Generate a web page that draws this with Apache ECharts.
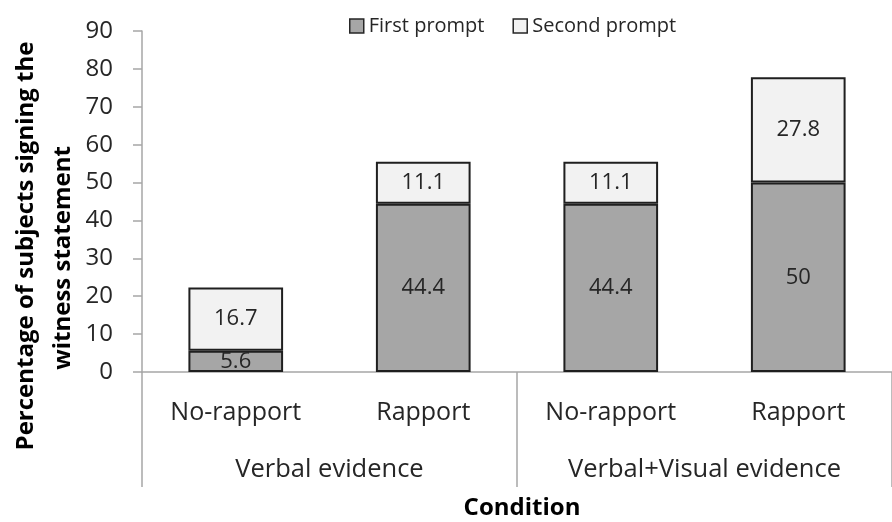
<!DOCTYPE html>
<html>
<head>
<meta charset="utf-8">
<script src="https://cdn.jsdelivr.net/npm/echarts@6/dist/echarts.min.js"></script>
<style>
html,body{margin:0;padding:0;background:#fff;}
#c{width:892px;height:522px;}
</style>
</head>
<body>
<div id="c"></div>
<script>
const categories = ['No-rapport', 'Rapport', 'No-rapport', 'Rapport'];
const groups = ['Verbal evidence', 'Verbal+Visual evidence'];
const firstPrompt = [5.6, 44.4, 44.4, 50];
const secondPrompt = [16.7, 11.1, 11.1, 27.8];
const yMin = 0, yMax = 90, yInterval = 10;
const seriesNames = ['First prompt', 'Second prompt'];
const yTitle1 = 'Percentage of subjects signing the';
const yTitle2 = 'witness statement';
const xTitle = 'Condition';

const FONT = '"Open Sans", sans-serif';
const AXIS_GRAY = '#a6a6a6';

const chart = echarts.init(document.getElementById('c'), null, {renderer: 'canvas'});
chart.setOption({
  animation: false,
  backgroundColor: '#ffffff',
  textStyle: {fontFamily: FONT},
  legend: {
    data: seriesNames,
    left: 344, top: 11,
    icon: 'rect', itemWidth: 14, itemHeight: 14, itemGap: 28,
    textStyle: {fontFamily: FONT, fontSize: 20, color: '#262626'},
    itemStyle: {borderColor: '#262626', borderWidth: 1.5}
  },
  grid: {left: 142, top: 31, width: 763, height: 341, containLabel: false},
  xAxis: [
    {
      type: 'category', data: categories, position: 'bottom',
      axisLine: {show: true, lineStyle: {color: AXIS_GRAY, width: 1.5}},
      axisTick: {show: false},
      axisLabel: {fontFamily: FONT, fontSize: 25, color: '#262626', margin: 28, interval: 0}
    },
    {
      type: 'category', data: groups, position: 'bottom', offset: 0,
      axisLine: {show: false},
      axisTick: {show: true, length: 115, lineStyle: {color: AXIS_GRAY, width: 1.5}},
      axisLabel: {fontFamily: FONT, fontSize: 25.5, color: '#262626', margin: 85, interval: 0}
    }
  ],
  yAxis: {
    type: 'value', min: yMin, max: yMax, interval: yInterval,
    axisLine: {show: true, lineStyle: {color: AXIS_GRAY, width: 1.5}},
    axisTick: {show: true, length: 9, lineStyle: {color: AXIS_GRAY, width: 1.5}},
    splitLine: {show: false},
    axisLabel: {fontFamily: FONT, fontSize: 24, color: '#262626', margin: 29}
  },
  series: [
    {
      name: seriesNames[0], type: 'bar', stack: 'total', xAxisIndex: 0,
      data: firstPrompt, barWidth: '50.5%',
      itemStyle: {color: '#a6a6a6', borderColor: '#1f1f1f', borderWidth: 2},
      label: {show: true, position: 'inside', fontFamily: FONT, fontSize: 22, color: '#262626'}
    },
    {
      name: seriesNames[1], type: 'bar', stack: 'total', xAxisIndex: 0,
      data: secondPrompt, barWidth: '50.5%',
      itemStyle: {color: '#f2f2f2', borderColor: '#1f1f1f', borderWidth: 2},
      label: {show: true, position: 'inside', fontFamily: FONT, fontSize: 22, color: '#262626'}
    }
  ],
  graphic: [
    {
      type: 'text', x: 26, y: 246, rotation: Math.PI / 2,
      style: {text: yTitle1, font: 'bold 24px "Open Sans", sans-serif', fill: '#000', align: 'center', verticalAlign: 'middle'}
    },
    {
      type: 'text', x: 63, y: 258, rotation: Math.PI / 2,
      style: {text: yTitle2, font: 'bold 24px "Open Sans", sans-serif', fill: '#000', align: 'center', verticalAlign: 'middle'}
    },
    {
      type: 'text', x: 522, y: 508,
      style: {text: xTitle, font: 'bold 24px "Open Sans", sans-serif', fill: '#000', align: 'center', verticalAlign: 'middle'}
    }
  ]
});
</script>
</body>
</html>
